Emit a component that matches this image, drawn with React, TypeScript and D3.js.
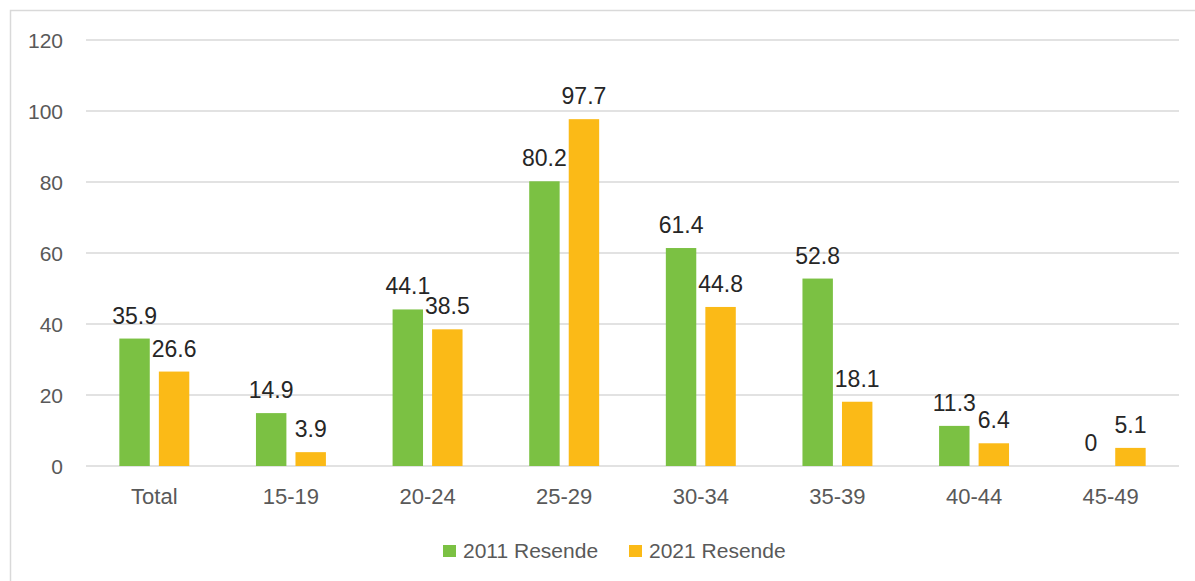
import React, { useEffect, useRef } from "react";
import * as d3 from "d3";

const categories = ["Total", "15-19", "20-24", "25-29", "30-34", "35-39", "40-44", "45-49"];
const series = ["2011 Resende", "2021 Resende"];
const values2011 = [35.9, 14.9, 44.1, 80.2, 61.4, 52.8, 11.3, 0];
const values2021 = [26.6, 3.9, 38.5, 97.7, 44.8, 18.1, 6.4, 5.1];
const yTicks = [0, 20, 40, 60, 80, 100, 120];
const colors = ["#7bc143", "#fbba17"];

const FONT = "'Liberation Sans', Arial, sans-serif";

const App = () => {
  const ref = useRef<SVGSVGElement>(null);

  useEffect(() => {
    const svg = d3.select(ref.current);
    svg.selectAll("*").remove();

    const width = 1195;
    const height = 581;
    const left = 86, right = 1179, top = 40, bottom = 466;

    svg.attr("width", width).attr("height", height);

    // chart area border
    svg.append("rect")
      .attr("x", 10.5).attr("y", 10.5)
      .attr("width", width + 20).attr("height", height + 20)
      .attr("fill", "#fff")
      .attr("stroke", "#d9d9d9").attr("stroke-width", 1.5);

    const x0 = d3.scaleBand().domain(categories).range([left, right]).padding(0);
    const bw = x0.bandwidth();
    const x1 = d3.scaleBand()
      .domain(series)
      .range([bw * 0.244, bw * 0.756])
      .paddingInner(0.23);
    const y = d3.scaleLinear().domain([0, 120]).range([bottom, top]);

    // gridlines + tick labels
    const grid = svg.append("g");
    grid.selectAll("line")
      .data(yTicks)
      .enter()
      .append("line")
      .attr("x1", left).attr("x2", right)
      .attr("y1", d => y(d)).attr("y2", d => y(d))
      .attr("stroke", "#d9d9d9").attr("stroke-width", 1.5);
    grid.selectAll("text")
      .data(yTicks)
      .enter()
      .append("text")
      .attr("x", 63)
      .attr("y", d => y(d))
      .attr("dy", "0.36em")
      .attr("text-anchor", "end")
      .style("font-family", FONT)
      .style("font-size", "21px")
      .style("fill", "#595959")
      .text(d => d);

    // category labels
    svg.append("g").selectAll("text")
      .data(categories)
      .enter()
      .append("text")
      .attr("x", d => (x0(d) as number) + bw / 2)
      .attr("y", 504)
      .attr("text-anchor", "middle")
      .style("font-family", FONT)
      .style("font-size", "22px")
      .style("fill", "#595959")
      .text(d => d);

    const rows = categories.map((c, i) => ({
      cat: c,
      items: [
        { s: series[0], v: values2011[i], color: colors[0] },
        { s: series[1], v: values2021[i], color: colors[1] },
      ],
    }));

    const groups = svg.append("g").selectAll("g")
      .data(rows)
      .enter()
      .append("g")
      .attr("transform", d => `translate(${x0(d.cat)},0)`);

    groups.selectAll("rect")
      .data(d => d.items)
      .enter()
      .append("rect")
      .attr("x", d => x1(d.s) as number)
      .attr("width", x1.bandwidth())
      .attr("y", d => y(d.v))
      .attr("height", d => bottom - y(d.v))
      .attr("fill", d => d.color);

    // value labels, outside end
    groups.selectAll("text")
      .data(d => d.items)
      .enter()
      .append("text")
      .attr("x", d => (x1(d.s) as number) + x1.bandwidth() / 2)
      .attr("y", d => y(d.v) - 15)
      .attr("text-anchor", "middle")
      .style("font-family", FONT)
      .style("font-size", "23px")
      .style("fill", "#262626")
      .text(d => d.v);

    // legend
    const legendX = [443, 629];
    const legend = svg.append("g").selectAll("g")
      .data(series)
      .enter()
      .append("g")
      .attr("transform", (d, i) => `translate(${legendX[i]},545)`);
    legend.append("rect")
      .attr("width", 13).attr("height", 12)
      .attr("fill", (d, i) => colors[i]);
    legend.append("text")
      .attr("x", 20)
      .attr("y", 12.5)
      .style("font-family", FONT)
      .style("font-size", "21px")
      .style("fill", "#595959")
      .text(d => d);
  }, []);

  return <svg ref={ref} style={{ position: "absolute", left: 0, top: 0 }} />;
};

export default App;
